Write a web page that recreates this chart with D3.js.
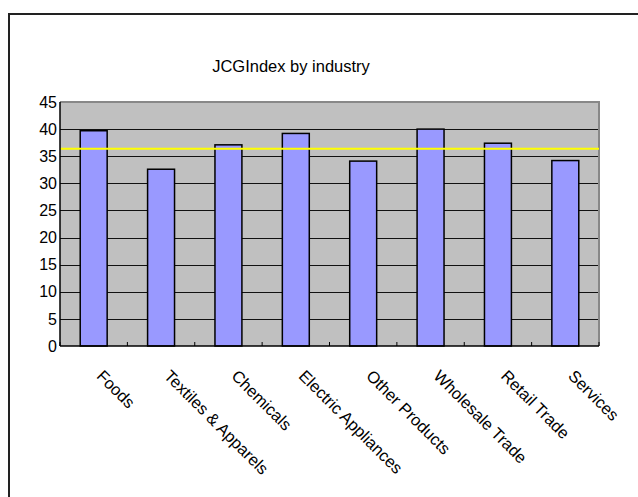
<!DOCTYPE html>
<html>
<head>
<meta charset="utf-8">
<script src="https://cdn.jsdelivr.net/npm/d3@7"></script>
<style>
  body { margin: 0; background: #fff; }
  text { font-family: "Liberation Sans", Arial, sans-serif; fill: #000; }
</style>
</head>
<body>
<svg id="chart"></svg>
<script>
// data
const industries = ["Foods", "Textiles & Apparels", "Chemicals", "Electric Appliances",
                    "Other Products", "Wholesale Trade", "Retail Trade", "Services"];
const jcgValues = [39.7, 32.6, 37.1, 39.2, 34.1, 40.0, 37.4, 34.2];
const averageValue = 36.4;
const yTicks = [0, 5, 10, 15, 20, 25, 30, 35, 40, 45];

const W = 638, H = 497;
const margin = { top: 102, left: 60, right: 39, bottom: 151 };
const width = W - margin.left - margin.right;
const height = H - margin.top - margin.bottom;

const svg = d3.select("#chart").attr("width", W).attr("height", H);

// outer chart frame (runs off the right and bottom edge)
svg.append("rect")
    .attr("x", 9).attr("y", 14)
    .attr("width", 700).attr("height", 600)
    .attr("fill", "none").attr("stroke", "#222").attr("stroke-width", 2);

svg.append("text")
    .attr("x", 291).attr("y", 72)
    .attr("text-anchor", "middle")
    .attr("font-size", 16.5)
    .text("JCGIndex by industry");

const chart = svg.append("g")
    .attr("transform", `translate(${margin.left},${margin.top})`);

const x = d3.scaleBand().domain(industries).range([0, width]).paddingInner(0.6).paddingOuter(0.3);
const y = d3.scaleLinear().domain([0, 45]).range([height, 0]);

// plot area background
chart.append("rect")
    .attr("width", width).attr("height", height)
    .attr("fill", "#c0c0c0");

// gridlines
chart.append("g")
    .selectAll("line")
    .data(yTicks.filter(d => d > 0 && d < 45))
    .join("line")
    .attr("x1", 0).attr("x2", width)
    .attr("y1", d => Math.round(y(d)) + 0.5).attr("y2", d => Math.round(y(d)) + 0.5)
    .attr("stroke", "#111").attr("stroke-width", 1);

// top / right border of the plot
chart.append("path")
    .attr("d", `M0,${y(45)}H${width}V${height}`)
    .attr("fill", "none").attr("stroke", "#888").attr("stroke-width", 2);

// bars
chart.selectAll(".bar")
    .data(industries)
    .join("rect")
    .attr("class", "bar")
    .attr("x", d => x(d))
    .attr("y", (d, i) => y(jcgValues[i]))
    .attr("width", x.bandwidth())
    .attr("height", (d, i) => height - y(jcgValues[i]))
    .attr("fill", "#9999ff")
    .attr("stroke", "#000").attr("stroke-width", 1.5);

// average line
chart.append("line")
    .attr("x1", 0).attr("x2", width)
    .attr("y1", y(averageValue)).attr("y2", y(averageValue))
    .attr("stroke", "#ffff00").attr("stroke-width", 2);

// axes
const step = width / industries.length;
chart.append("g")
    .selectAll("line")
    .data(d3.range(industries.length + 1))
    .join("line")
    .attr("x1", i => i * step).attr("x2", i => i * step)
    .attr("y1", height).attr("y2", height - 4)
    .attr("stroke", "#000");

chart.append("line")
    .attr("x1", 0).attr("x2", width)
    .attr("y1", height).attr("y2", height)
    .attr("stroke", "#000").attr("stroke-width", 1.5);
chart.append("line")
    .attr("x1", 0).attr("x2", 0)
    .attr("y1", 0).attr("y2", height)
    .attr("stroke", "#000").attr("stroke-width", 1.5);

// y labels
const yAxis = d3.axisLeft(y).tickValues(yTicks).tickSize(0).tickPadding(3);
chart.append("g").call(yAxis)
    .call(g => g.select(".domain").remove())
    .selectAll("text")
    .attr("font-size", 16)
    .attr("font-family", "Liberation Sans, Arial, sans-serif");

// x labels, rotated 45 degrees
chart.append("g")
    .selectAll("text")
    .data(industries)
    .join("text")
    .attr("transform", d => `translate(${x(d) + x.bandwidth() / 2 + 2},${height + 31}) rotate(45)`)
    .attr("font-size", 16.5)
    .text(d => d);
</script>
</body>
</html>
